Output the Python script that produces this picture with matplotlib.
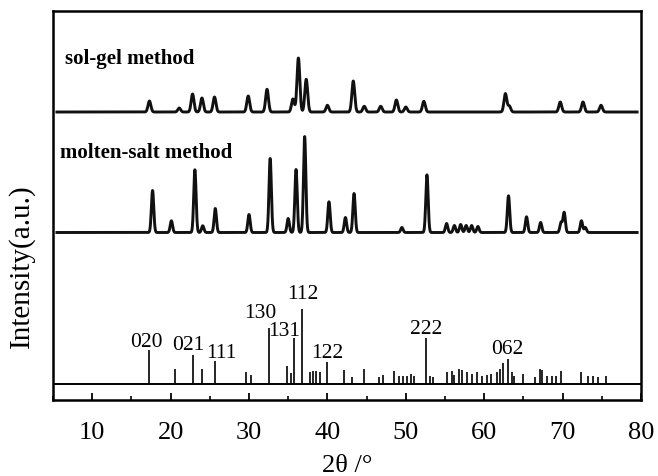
import numpy as np
import matplotlib
matplotlib.use("Agg")
import matplotlib.pyplot as plt
from matplotlib.ticker import MultipleLocator

plt.rcParams['font.family'] = ['Liberation Serif', 'DejaVu Serif']
plt.rcParams['mathtext.fontset'] = 'stix'

# ---------------- data ----------------
# sol-gel pattern: peak positions (2theta) and heights (a.u.)
solgel_pos = [17.3, 21.1, 22.8, 24.0, 25.6, 29.9, 32.3, 35.6, 36.3, 37.3, 40.0,
              43.3, 44.7, 46.8, 48.8, 50.0, 52.3, 62.7, 63.2, 69.7, 72.6, 74.9]
solgel_int = [11, 4, 18, 14, 15, 16, 22.7, 13, 54, 32.7, 6.7,
              31, 5.7, 5.7, 12, 5, 10.7, 18.3, 6, 10, 10, 6.7]

# molten-salt pattern
molten_pos = [17.7, 20.1, 23.1, 24.1, 25.7, 30.0, 32.7, 35.0, 36.0, 37.1, 40.2,
              42.3, 43.4, 49.5, 52.7, 55.2, 56.2, 57.0, 57.7, 58.4, 59.2, 63.1,
              65.4, 67.2, 69.8, 70.2, 72.4, 72.9]
molten_int = [42, 11.7, 62.7, 6.7, 24, 18, 74, 14, 63, 96, 30.7,
              15, 39, 5, 57.7, 9, 7, 8, 7, 7, 6, 36.7,
              15.7, 10, 10, 20, 11.7, 5]

# reference stick pattern (relative intensity, 112 = 100)
ref_pos = [17.3, 20.5, 22.9, 24.0, 25.6, 29.6, 30.2, 32.5, 34.8, 35.3, 35.8, 36.8,
           37.8, 38.2, 38.5, 39.0, 40.0, 42.1, 43.1, 44.7, 46.6, 47.1, 48.5, 49.1,
           49.7, 50.2, 50.6, 51.1, 52.6, 53.1, 53.5, 55.3, 55.9, 56.2, 56.8, 57.2,
           57.8, 58.4, 59.1, 59.7, 60.3, 60.9, 61.6, 62.0, 62.4, 63.0, 63.5, 63.8,
           65.0, 66.5, 67.1, 67.4, 68.0, 68.7, 69.1, 69.8, 72.3, 73.2, 73.9, 74.5, 75.5]
ref_int = [45, 20, 39, 20, 31, 16, 12, 75, 24, 15, 62, 100,
           16, 17, 17, 16, 29, 19, 9, 20, 9, 12, 18, 11,
           11, 11, 14, 11, 62, 11, 9, 16, 18, 12, 20, 19,
           16, 14, 16, 11, 12, 14, 16, 20, 28, 34, 16, 11,
           14, 10, 20, 19, 11, 11, 11, 17, 16, 11, 11, 9, 11]

hkl_labels = ['020', '021', '111', '130', '131', '112', '122', '222', '062']
hkl_pos = [17.3, 22.9, 25.6, 32.5, 35.8, 36.8, 40.0, 52.6, 63.0]

series_names = ['sol-gel method', 'molten-salt method']
xticks = [10, 20, 30, 40, 50, 60, 70, 80]

# ---------------- layout ----------------
solgel_base, molten_base, ref_base = 288.0, 167.5, 16.0
ref_scale = 0.75
label_dx = [-0.4, -0.6, 0.9, -1.1, -1.3, 0.0, 0.0, 0.0, 0.0]
label_dy = [3, 5, 3, 10, 1, 10, 4, 4, 5]

fig = plt.figure(figsize=(6.58, 4.76), dpi=100)
ax = fig.add_axes([53/658, 1-400/476, 588/658, 389/476])

x = np.linspace(5.5, 79.5, 4000)

def pattern(pos, inten, sigma):
    y = np.zeros_like(x)
    for p, h in zip(pos, inten):
        y += h * np.exp(-0.5 * ((x - p) / sigma) ** 2)
    return y

ax.plot(x, solgel_base + pattern(solgel_pos, solgel_int, 0.18), color='#111111', lw=2.1)
ax.plot(x, molten_base + pattern(molten_pos, molten_int, 0.15), color='#111111', lw=2.1)

# stick pattern
ax.axhline(ref_base, color='black', lw=1.4)
ax.vlines(ref_pos, ref_base, ref_base + np.array(ref_int) * ref_scale, color='black', lw=1.2)

ref_lookup = dict(zip(ref_pos, ref_int))
for lab, p, dx, dy in zip(hkl_labels, hkl_pos, label_dx, label_dy):
    top = ref_base + ref_lookup[p] * ref_scale
    ax.text(p + dx, top + dy, lab, ha='center', va='baseline', fontsize=15.5)

ax.text(6.5, 336, series_names[0], fontsize=15, fontweight='bold', va='baseline')
ax.text(5.9, 241.5, series_names[1], fontsize=15, fontweight='bold', va='baseline')

ax.set_xlim(5, 80)
ax.set_ylim(0, 389)
ax.set_xticks(xticks)
ax.set_xticklabels([str(t) for t in xticks])
ax.xaxis.set_minor_locator(MultipleLocator(5))
ax.tick_params(axis='x', which='major', direction='in', length=5, width=1.3,
               labelsize=19, pad=16, top=False)
ax.tick_params(axis='x', which='minor', direction='in', length=3, width=1.2, top=False)
ax.set_yticks([])
for s in ax.spines.values():
    s.set_linewidth(1.8)

ax.set_xlabel('2θ /°', fontsize=19, labelpad=8)
ax.set_ylabel('Intensity(a.u.)', fontsize=21, va='center')
ax.yaxis.set_label_coords(-0.053, 0.343)

fig.savefig('out.png', dpi=100)
